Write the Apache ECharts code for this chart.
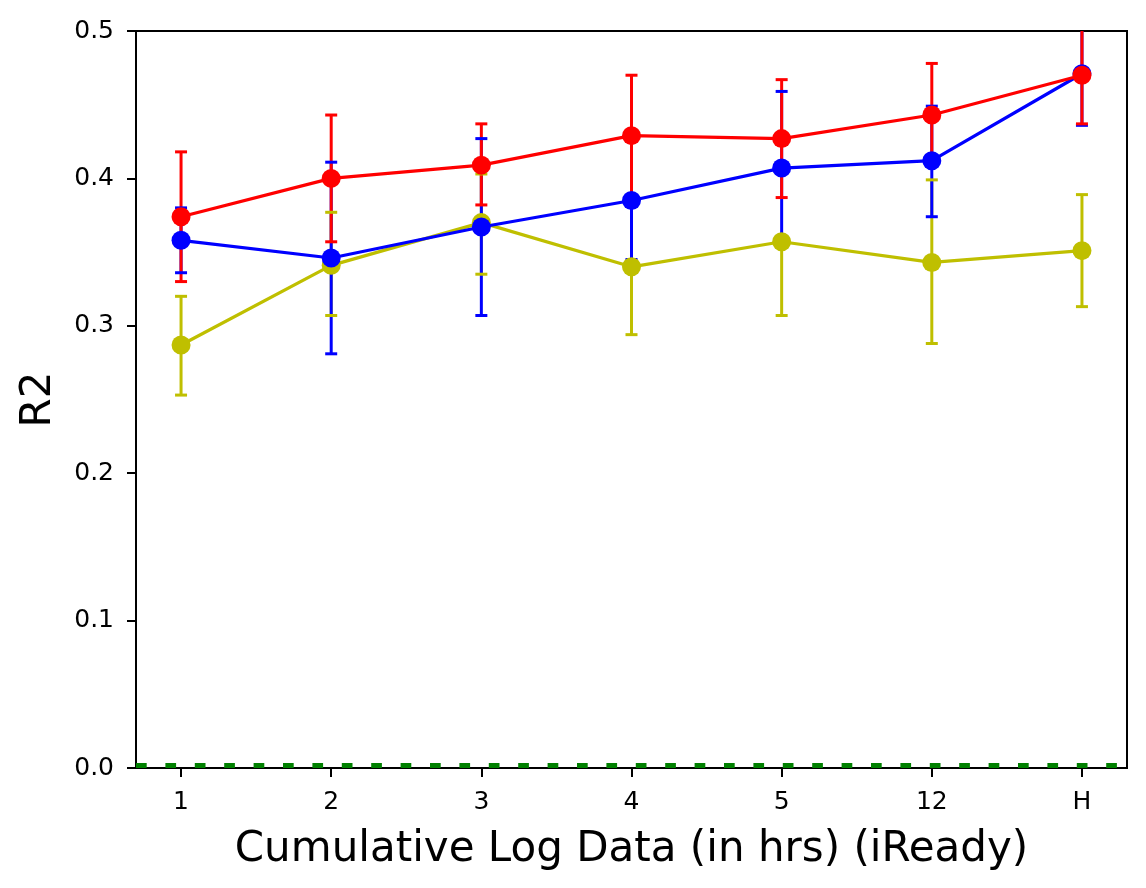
<!DOCTYPE html>
<html>
<head>
<meta charset="utf-8">
<script src="https://cdn.jsdelivr.net/npm/echarts@6/dist/echarts.min.js"></script>
<style>html,body{margin:0;padding:0;background:#fff}#c{width:1146px;height:888px}</style>
</head>
<body>
<div id="c"></div>
<script>
const categories = ['1', '2', '3', '4', '5', '12', 'H'];

const redMean = [0.374, 0.400, 0.409, 0.429, 0.427, 0.443, 0.470];
const redLow  = [0.330, 0.357, 0.382, 0.388, 0.387, 0.410, 0.437];
const redHigh = [0.418, 0.443, 0.437, 0.470, 0.467, 0.478, 0.504];

const blueMean = [0.358, 0.346, 0.367, 0.385, 0.407, 0.412, 0.471];
const blueLow  = [0.336, 0.281, 0.307, 0.345, 0.360, 0.374, 0.436];
const blueHigh = [0.380, 0.411, 0.427, 0.428, 0.459, 0.449, 0.503];

const yellowMean = [0.287, 0.341, 0.370, 0.340, 0.357, 0.343, 0.351];
const yellowLow  = [0.253, 0.307, 0.335, 0.294, 0.307, 0.288, 0.313];
const yellowHigh = [0.320, 0.377, 0.403, 0.344, 0.360, 0.399, 0.389];

const baselineValue = 0;

const RED = '#ff0000', BLUE = '#0000ff', YEL = '#bfbf00', GREEN = '#008000';
const FONT = 'DejaVu Sans';

const chart = echarts.init(document.getElementById('c'));

function pts(mean) { return mean.map((v, i) => [i, v]); }
function errData(low, high) { return low.map((l, i) => [i, l, high[i]]); }

function barSeries(low, high, color, z) {
  return {
    type: 'custom', z: z, clip: true, silent: true,
    data: errData(low, high),
    encode: { x: 0, y: [1, 2] },
    renderItem: function (params, api) {
      const x = api.value(0);
      const p1 = api.coord([x, api.value(1)]);
      const p2 = api.coord([x, api.value(2)]);
      return { type: 'line', shape: { x1: p1[0], y1: p1[1], x2: p2[0], y2: p2[1] },
               style: { stroke: color, lineWidth: 3 } };
    }
  };
}
function capSeries(low, high, color, z) {
  return {
    type: 'custom', z: z, clip: true, silent: true,
    data: errData(low, high),
    encode: { x: 0, y: [1, 2] },
    renderItem: function (params, api) {
      const x = api.value(0);
      const p1 = api.coord([x, api.value(1)]);
      const p2 = api.coord([x, api.value(2)]);
      const hw = 6;
      return { type: 'group', children: [
        { type: 'line', shape: { x1: p1[0] - hw, y1: p1[1], x2: p1[0] + hw, y2: p1[1] }, style: { stroke: color, lineWidth: 3 } },
        { type: 'line', shape: { x1: p2[0] - hw, y1: p2[1], x2: p2[0] + hw, y2: p2[1] }, style: { stroke: color, lineWidth: 3 } }
      ] };
    }
  };
}
function lineSeries(mean, color, z) {
  return {
    type: 'line', z: z, data: pts(mean), symbol: 'circle', symbolSize: 19,
    showAllSymbol: true, silent: true, animation: false,
    lineStyle: { color: color, width: 3.2 },
    itemStyle: { color: color, borderWidth: 0 }
  };
}

const option = {
  animation: false,
  grid: { left: 136, top: 31, right: 19, bottom: 120, show: true, borderColor: '#000', borderWidth: 2, backgroundColor: 'transparent' },
  xAxis: {
    type: 'value', min: -0.3, max: 6.3,
    name: 'Cumulative Log Data (in hrs) (iReady)', nameLocation: 'middle', nameGap: 61,
    nameTextStyle: { fontFamily: FONT, fontSize: 42, color: '#000' },
    axisLine: { show: true, onZero: false, lineStyle: { color: '#000', width: 2 } },
    axisTick: { show: true, length: 9, lineStyle: { color: '#000', width: 2 }, customValues: [0, 1, 2, 3, 4, 5, 6] },
    axisLabel: { fontFamily: FONT, fontSize: 25, color: '#000', margin: 22,
                 customValues: [0, 1, 2, 3, 4, 5, 6],
                 formatter: v => categories[Math.round(v)] },
    splitLine: { show: false }
  },
  yAxis: {
    type: 'value', min: 0, max: 0.5, interval: 0.1,
    name: 'R2', nameLocation: 'middle', nameGap: 76, nameRotate: 90,
    nameTextStyle: { fontFamily: FONT, fontSize: 42, color: '#000' },
    axisLine: { show: true, onZero: false, lineStyle: { color: '#000', width: 2 } },
    axisTick: { show: true, length: 9, lineStyle: { color: '#000', width: 2 } },
    axisLabel: { fontFamily: FONT, fontSize: 25, color: '#000', margin: 22,
                 formatter: v => v.toFixed(1) },
    splitLine: { show: false }
  },
  series: [
    {
      type: 'custom', z: 1, clip: false, silent: true,
      data: [[0, baselineValue]],
      renderItem: function (params, api) {
        const cs = params.coordSys;
        const y = api.coord([0, api.value(1)])[1] - 2.5;
        return { type: 'line', shape: { x1: cs.x, y1: y, x2: cs.x + cs.width, y2: y },
                 style: { stroke: GREEN, lineWidth: 5, lineDash: [10.7, 18.7] } };
      }
    },
    barSeries(yellowLow, yellowHigh, YEL, 2),
    barSeries(blueLow, blueHigh, BLUE, 2),
    barSeries(redLow, redHigh, RED, 2),
    capSeries(yellowLow, yellowHigh, YEL, 3),
    capSeries(blueLow, blueHigh, BLUE, 3),
    capSeries(redLow, redHigh, RED, 3),
    lineSeries(yellowMean, YEL, 4),
    lineSeries(blueMean, BLUE, 5),
    lineSeries(redMean, RED, 6)
  ]
};
chart.setOption(option);
</script>
</body>
</html>
